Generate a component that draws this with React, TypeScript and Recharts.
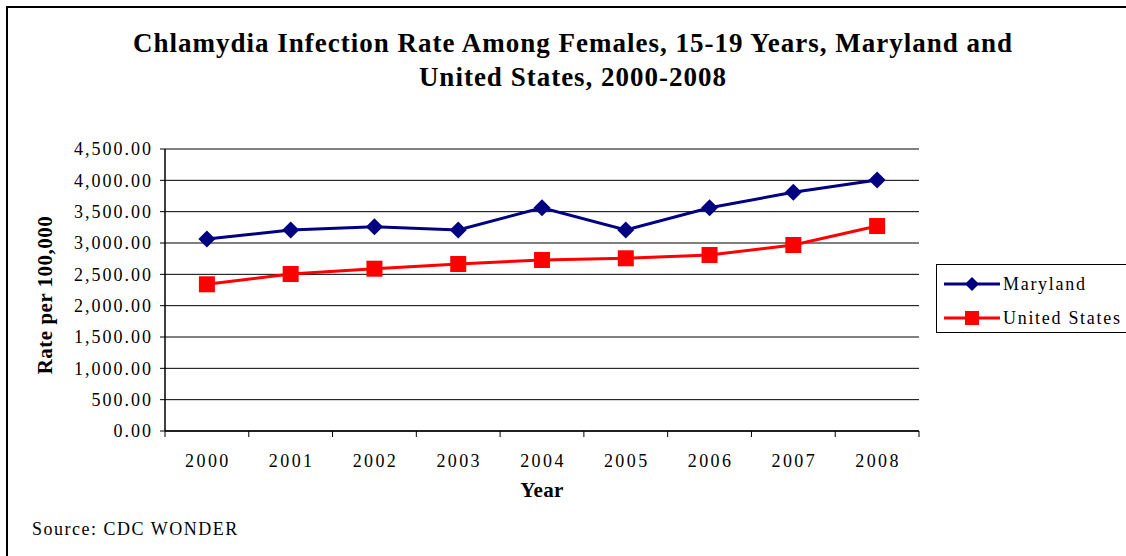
import React from 'react';
import { LineChart, Line, XAxis, YAxis, CartesianGrid, Legend } from 'recharts';

const years = ['2000', '2001', '2002', '2003', '2004', '2005', '2006', '2007', '2008'];
const maryland = [3064, 3207, 3260, 3207, 3563, 3207, 3563, 3809, 4005];
const unitedStates = [2341, 2505, 2590, 2665, 2729, 2756, 2809, 2968, 3271];
const yTicks = [0, 500, 1000, 1500, 2000, 2500, 3000, 3500, 4000, 4500];

const data = years.map((y, i) => ({ year: y, md: maryland[i], us: unitedStates[i] }));

const W = 1126;
const H = 556;
const XAXIS_H = 40;
const MARGIN = { top: 149, right: 207, bottom: 125 - XAXIS_H, left: 0 };
const YAXIS_W = 165;
const PLOT_W = W - MARGIN.left - MARGIN.right - YAXIS_W;
const HALF_BAND = PLOT_W / years.length / 2;
const FONT = '"Liberation Serif", "Times New Roman", serif';
const NAVY = '#000080';
const RED = '#FF0000';

const Diamond = (props: any) => {
  const { cx, cy } = props;
  if (cx == null || cy == null) return null;
  const r = 8.5;
  return <path d={`M${cx},${cy - r}L${cx + r},${cy}L${cx},${cy + r}L${cx - r},${cy}Z`} fill={NAVY} stroke="none" />;
};

const Square = (props: any) => {
  const { cx, cy } = props;
  if (cx == null || cy == null) return null;
  const s = 8;
  return <rect x={cx - s} y={cy - s} width={2 * s} height={2 * s} fill={RED} stroke="none" />;
};

const XTick = (props: any) => {
  const { x, y, payload, index } = props;
  const left = x - HALF_BAND;
  const right = x + HALF_BAND;
  const isLast = index === years.length - 1;
  return (
    <g>
      <line x1={left} x2={left} y1={y} y2={y + 6} stroke="#000" strokeWidth={1} />
      {isLast && <line x1={right} x2={right} y1={y} y2={y + 6} stroke="#000" strokeWidth={1} />}
      <text x={x + 1} y={y + 36} textAnchor="middle" fontFamily={FONT} fontSize={18} letterSpacing={2.4} fill="#000">
        {payload.value}
      </text>
    </g>
  );
};

const YLabel = (props: any) => {
  const vb = props.viewBox || {};
  const cx = (vb.x ?? 0) + 45;
  const cy = (vb.y ?? 0) + (vb.height ?? 0) / 2 + 5;
  return (
    <text
      x={cx}
      y={cy}
      transform={`rotate(-90 ${cx} ${cy})`}
      textAnchor="middle"
      dominantBaseline="central"
      fontFamily={FONT}
      fontWeight="bold"
      fontSize={21}
      letterSpacing={0.5}
      fill="#000"
    >
      Rate per 100,000
    </text>
  );
};

const fmt = (v: number) => v.toLocaleString('en-US', { minimumFractionDigits: 2, maximumFractionDigits: 2 });

const LegendContent = () => {
  const items = [
    { label: 'Maryland', color: NAVY, shape: 'diamond' },
    { label: 'United States', color: RED, shape: 'square' },
  ];
  return (
    <div
      style={{
        border: '1px solid #000',
        borderRight: 'none',
        width: 220,
        height: 69,
        boxSizing: 'border-box',
        background: '#fff',
        paddingLeft: 7,
        paddingTop: 2,
      }}
    >
      {items.map((it) => (
        <div key={it.label} style={{ display: 'flex', alignItems: 'center', height: 34 }}>
          <svg width={56} height={20} style={{ display: 'block' }}>
            <line x1={0} x2={56} y1={10} y2={10} stroke={it.color} strokeWidth={3} />
            {it.shape === 'diamond' ? (
              <path d="M28,3L35,10L28,17L21,10Z" fill={it.color} />
            ) : (
              <rect x={21} y={3} width={14} height={14} fill={it.color} />
            )}
          </svg>
          <span style={{ fontFamily: FONT, fontSize: 18, letterSpacing: 1.7, color: '#000', marginLeft: 3, whiteSpace: 'nowrap' }}>
            {it.label}
          </span>
        </div>
      ))}
    </div>
  );
};

export default function App() {
  return (
    <div
      style={{
        position: 'absolute',
        left: 0,
        top: 0,
        width: W,
        height: H,
        background: '#fff',
        overflow: 'hidden',
      }}
    >
      <div
        style={{
          position: 'absolute',
          left: 6,
          top: 6,
          width: W,
          height: H,
          borderLeft: '2px solid #000',
          borderTop: '2px solid #000',
          boxSizing: 'border-box',
          pointerEvents: 'none',
        }}
      />
      <div
        style={{
          position: 'absolute',
          left: 10,
          top: 26,
          width: W,
          textAlign: 'center',
          fontFamily: FONT,
          fontWeight: 'bold',
          fontSize: 27,
          letterSpacing: 1,
          lineHeight: '34px',
          color: '#000',
        }}
      >
        Chlamydia Infection Rate Among Females, 15-19 Years, Maryland and
        <br />
        United States, 2000-2008
      </div>
      <div
        style={{
          position: 'absolute',
          left: 32,
          top: 519,
          fontFamily: FONT,
          fontSize: 18,
          letterSpacing: 1.5,
          color: '#000',
        }}
      >
        Source: CDC WONDER
      </div>
      <div style={{ position: 'absolute', left: 0, top: 0 }}>
        <LineChart width={W} height={H} data={data} margin={MARGIN}>
          <CartesianGrid horizontal vertical={false} stroke="#000" strokeWidth={1} />
          <XAxis
            dataKey="year"
            type="category"
            padding={{ left: HALF_BAND, right: HALF_BAND }}
            axisLine={{ stroke: '#000', strokeWidth: 1.5 }}
            tickLine={false}
            tickSize={0}
            tickMargin={0}
            tick={<XTick />}
            interval={0}
            height={XAXIS_H}
            label={{ value: 'Year', position: 'insideBottom', offset: -26, fontFamily: FONT, fontWeight: 'bold', fontSize: 21, letterSpacing: 0.4, fill: '#000' }}
          />
          <XAxis xAxisId="top" orientation="top" dataKey="year" height={0} tick={false} tickLine={false} axisLine={{ stroke: '#000', strokeWidth: 1.5 }} />
          <YAxis
            type="number"
            domain={[0, 4500]}
            ticks={yTicks}
            interval={0}
            width={YAXIS_W}
            tickFormatter={fmt}
            axisLine={{ stroke: '#000', strokeWidth: 1.5 }}
            tickLine={{ stroke: '#000' }}
            tickSize={5}
            tickMargin={7}
            tick={{ fill: '#000', fontFamily: FONT, fontSize: 18, letterSpacing: 2 }}
            label={<YLabel />}
          />
          <YAxis yAxisId="right" orientation="right" width={0} tick={false} tickLine={false} axisLine={{ stroke: '#000', strokeWidth: 2 }} />
          <Legend
            layout="horizontal"
            verticalAlign="middle"
            align="center"
            content={<LegendContent />}
            wrapperStyle={{ left: 936, top: 264, width: 220 }}
          />
          <Line
            dataKey="md"
            name="Maryland"
            stroke={NAVY}
            strokeWidth={3}
            dot={<Diamond />}
            activeDot={false}
            isAnimationActive={false}
          />
          <Line
            dataKey="us"
            name="United States"
            stroke={RED}
            strokeWidth={3}
            dot={<Square />}
            activeDot={false}
            isAnimationActive={false}
          />
        </LineChart>
      </div>
    </div>
  );
}
